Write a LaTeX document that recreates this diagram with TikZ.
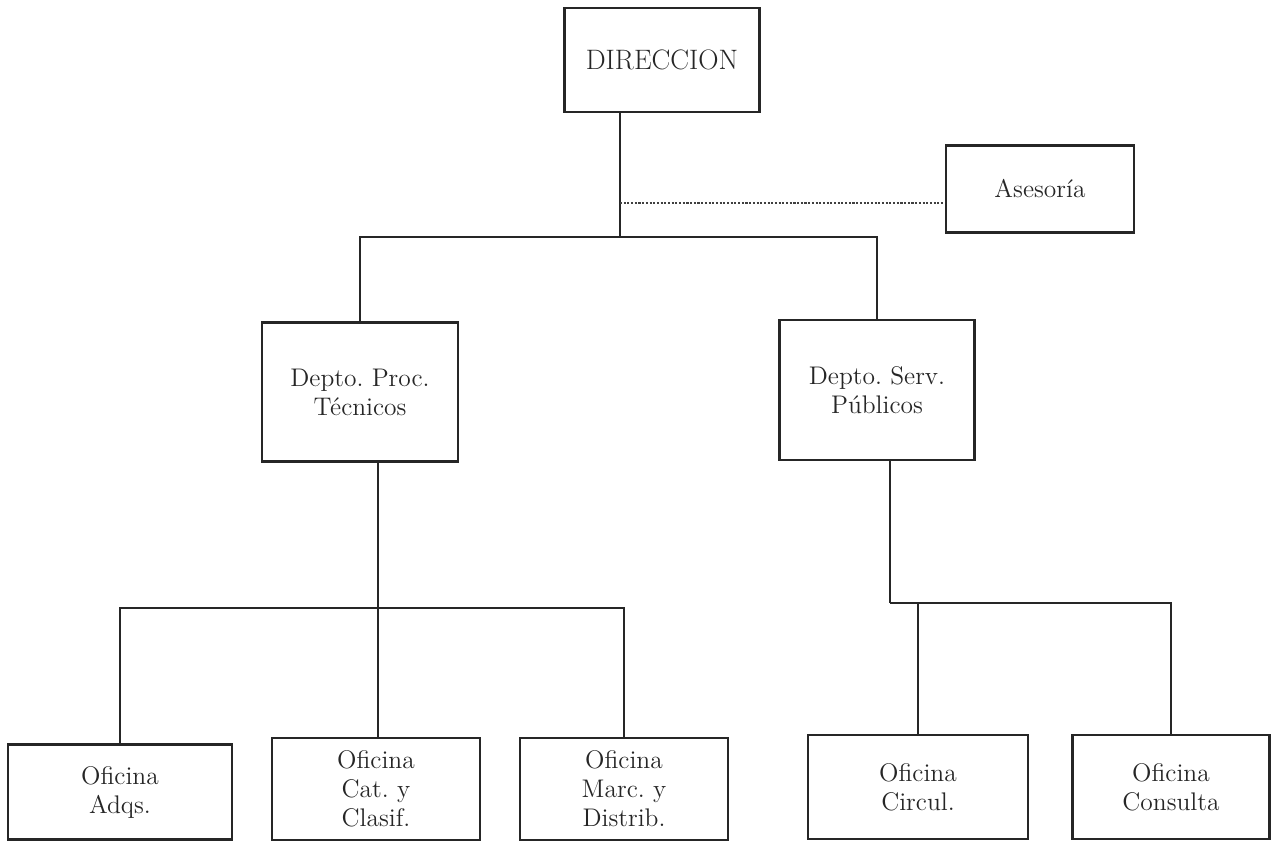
\documentclass[tikz,border=0pt]{standalone}
\begin{document}
\begin{tikzpicture}[x=0.02cm,y=-0.02cm,
    unit/.style={draw=black!85, line width=1.6pt, align=center, inner sep=2pt,
        font=\fontsize{14.5}{16.5}\selectfont, text=black!85},
    conn/.style={line width=1.3pt, draw=black!85},
    staff/.style={line width=0.9pt, draw=black!75, dash pattern=on 1.2pt off 0.9pt}]
    \useasboundingbox (0,0) rectangle (1286,840);
    % top
    \node[unit, minimum width=3.9cm, minimum height=2.08cm, font=\fontsize{16}{18}\selectfont] (dir) at (662,60) {DIRECCION};
    \node[unit, minimum width=3.76cm, minimum height=1.74cm] (ases) at (1040,189) {Asesor\'ia};
    % departments
    \node[unit, minimum width=3.92cm, minimum height=2.78cm] (proc) at (360,392) {Depto.\ Proc.\\T\'ecnicos};
    \node[unit, minimum width=3.9cm, minimum height=2.8cm] (serv) at (877,390) {Depto.\ Serv.\\P\'ublicos};
    % offices
    \node[unit, minimum width=4.48cm, minimum height=1.9cm] (adqs) at (120,792) {Oficina\\Adqs.};
    \node[unit, minimum width=4.16cm, minimum height=2.04cm] (cat) at (376,789) {Oficina\\Cat.\ y\\Clasif.};
    \node[unit, minimum width=4.16cm, minimum height=2.04cm] (marc) at (624,789) {Oficina\\Marc.\ y\\Distrib.};
    \node[unit, minimum width=4.4cm, minimum height=2.08cm] (circ) at (918,787) {Oficina\\Circul.};
    \node[unit, minimum width=3.94cm, minimum height=2.08cm] (cons) at (1171,787) {Oficina\\Consulta};
    % bus levels
    \coordinate (busA) at (620,237);
    \coordinate (staffA) at (620,203);
    \coordinate (busB) at (378,608);
    \coordinate (busC) at (890,603);
    % lines
    \draw[conn] (dir.south -| busA) -- (busA);
    \draw[conn] (proc.north) |- (busA) -| (serv.north);
    \draw[staff] (staffA) -- (staffA -| ases.west);
    \draw[conn] (proc.south -| busB) -- (cat.north -| busB);
    \draw[conn] (adqs.north) |- (busB) -| (marc.north);
    \draw[conn] (serv.south -| busC) -- (busC);
    \draw[conn] (circ.north) |- (busC) -| (cons.north);
\end{tikzpicture}
\end{document}
